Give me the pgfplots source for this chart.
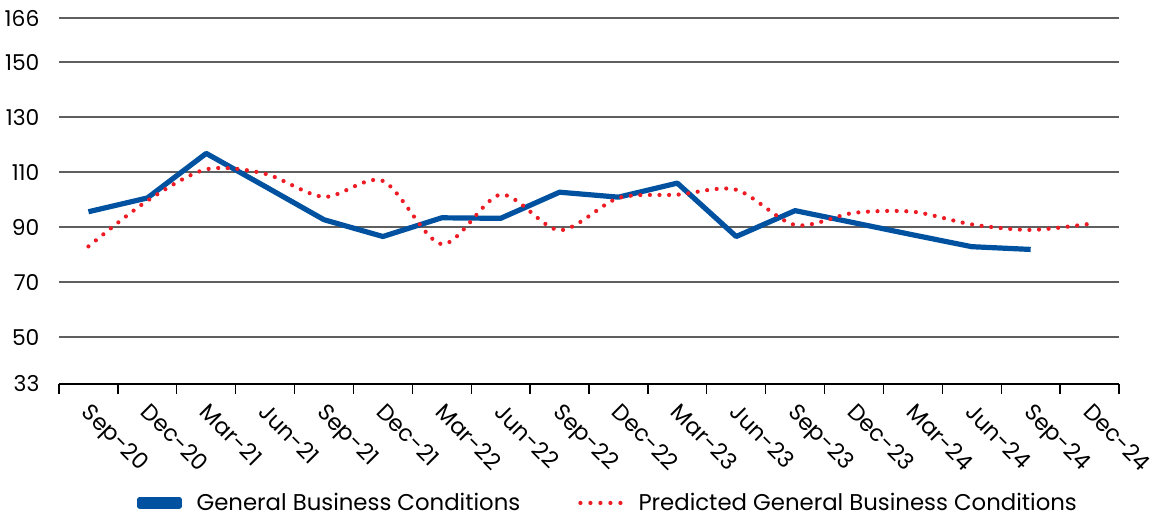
\documentclass[border=0pt]{standalone}
\usepackage{fontspec}
\setmainfont{Poppins}
\usepackage{pgfplots}
\pgfplotsset{compat=1.18}
\definecolor{gbcblue}{RGB}{0,82,160}
\definecolor{gbcred}{RGB}{237,28,36}
\definecolor{gridgray}{RGB}{95,95,95}
\begin{document}
\begin{tikzpicture}
\begin{axis}[
  name=ax,
  scale only axis,
  width=530pt, height=183pt,
  xmin=-0.5, xmax=17.5,
  ymin=33, ymax=166,
  axis x line*=bottom,
  axis y line*=left,
  y axis line style={draw=none},
  x axis line style={black, line width=0.8pt},
  ytick={33,50,70,90,110,130,150,166},
  ymajorgrids,
  grid style={gridgray, line width=0.8pt},
  ytick style={draw=none},
  xtick={0,...,17},
  xticklabels={Sep-20,Dec-20,Mar-21,Jun-21,Sep-21,Dec-21,Mar-22,Jun-22,Sep-22,Dec-22,Mar-23,Jun-23,Sep-23,Dec-23,Mar-24,Jun-24,Sep-24,Dec-24},
  major x tick style={draw=none},
  minor xtick={-0.5,0.5,...,17.5},
  minor x tick style={black, line width=0.7pt},
  minor tick length=5pt,
  tick align=outside,
  xticklabel style={rotate=-45, anchor=north west, inner sep=1pt, xshift=3.6pt, yshift=-0.6pt,
    font=\fontsize{11.3}{13}\selectfont},
  yticklabel style={font=\fontsize{10.9}{13}\selectfont, xshift=-2pt},
  /pgf/number format/assume math mode=true,
  legend style={draw=none, at={(0.519,-0.325)}, anchor=center, font=\fontsize{11.4}{13}\selectfont,
    /tikz/every even column/.append style={column sep=27pt}},
  legend columns=2,
  clip=false,
]
\addplot[gbcblue, line width=2.6pt, line join=round,
  legend image code/.code={\fill[gbcblue] (0pt,-1.6pt) rectangle (19.5pt,1.9pt); \path (25pt,0pt);}]
  coordinates {
  (0,95.6) (1,100.6) (2,116.8) (3,104.8) (4,92.7) (5,86.6) (6,93.4) (7,93.2)
  (8,102.7) (9,100.9) (10,106) (11,86.6) (12,96.0) (13,91.6) (14,87.2)
  (15,82.9) (16,81.9)
  };
\addlegendentry{General Business Conditions}
\addplot[gbcred, smooth, line width=2.1pt, line cap=round, dash pattern=on 0pt off 4.8pt,
  legend image code/.code={\draw[gbcred, line width=2.1pt, line cap=round, dash pattern=on 0pt off 5pt] (0pt,0pt) -- (20.5pt,0pt); \path (26pt,0pt);}]
  coordinates {
  (0,83) (1,99.6) (2,111) (3,109.4) (4,101) (5,106.8) (6,83.8) (7,101.8)
  (8,88.9) (9,100.6) (10,101.8) (11,103.6) (12,90.8) (13,95.2) (14,95.6)
  (15,91) (16,89) (17,91.2)
  };
\addlegendentry{Predicted General Business Conditions}
\end{axis}
\pgfresetboundingbox
\useasboundingbox ([xshift=-29.5pt,yshift=-66.5pt]ax.south west) rectangle ([xshift=16.5pt,yshift=9pt]ax.north east);
\end{tikzpicture}
\end{document}
